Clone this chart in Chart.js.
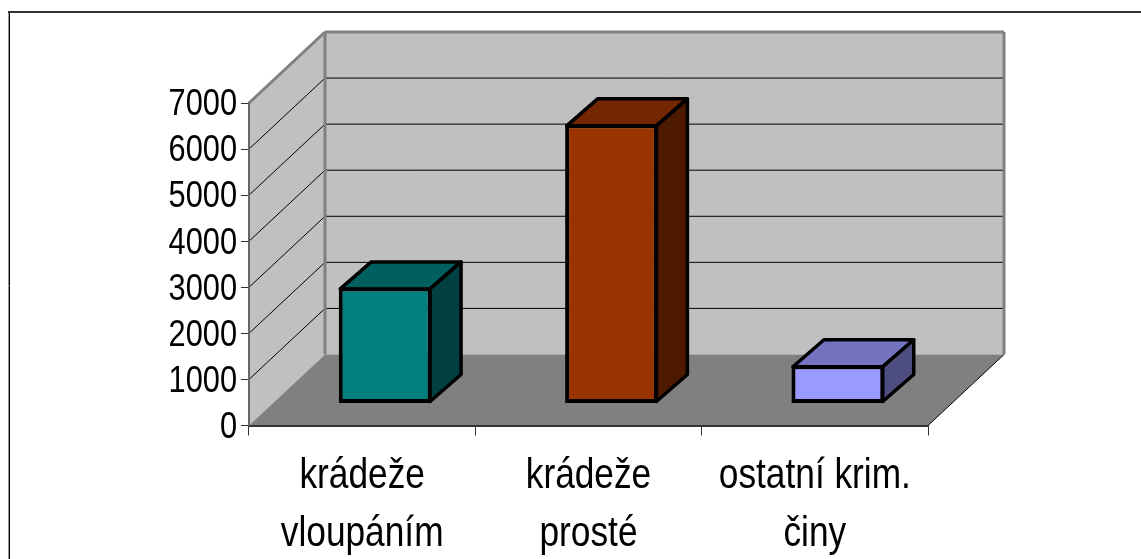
<!DOCTYPE html>
<html>
<head>
<meta charset="utf-8">
<script src="https://cdn.jsdelivr.net/npm/chart.js@4"></script>
<style>
body { margin: 0; background: #fff; }
canvas { display: block; }
</style>
</head>
<body>
<canvas id="myChart" width="1141" height="559"></canvas>
<script>
const categories = [['krádeže', 'vloupáním'], ['krádeže', 'prosté'], ['ostatní krim.', 'činy']]
const values = [2520, 6060, 830]
const barColors = ['#008080', '#993300', '#9999FF']
const topColors = ['#006060', '#732600', '#7373C0']
const sideColors = ['#004040', '#4D1A00', '#4D4D80']

const wallDepth = { x: 76, y: -71 }
const barShift = { x: 23, y: -22 }
const barDepth = { x: 31, y: -27 }

function poly(ctx, points, fill, stroke, width) {
    ctx.beginPath()
    points.forEach(function(p, i) {
        if (i === 0) ctx.moveTo(p[0], p[1])
        else ctx.lineTo(p[0], p[1])
    })
    ctx.closePath()
    if (fill) {
        ctx.fillStyle = fill
        ctx.fill()
    }
    if (stroke) {
        ctx.strokeStyle = stroke
        ctx.lineWidth = width
        ctx.stroke()
    }
}

function line(ctx, x1, y1, x2, y2, color, width) {
    ctx.beginPath()
    ctx.moveTo(x1, y1)
    ctx.lineTo(x2, y2)
    ctx.strokeStyle = color
    ctx.lineWidth = width
    ctx.stroke()
}

// the original text is squeezed sideways, no narrow font is installed
const canvas = document.getElementById('myChart')
const canvasCtx = canvas.getContext('2d')
const plainFillText = canvasCtx.fillText
canvasCtx.fillText = function(text, x, y) {
    this.save()
    this.translate(x, y + 2)
    this.scale(0.82, 1)
    plainFillText.call(this, text, 0, 0)
    this.restore()
}

// the 3D box behind the bars, hung on the real scales
const walls = {
    id: 'walls',
    beforeDraw: function(chart) {
        const ctx = chart.ctx
        const xs = chart.scales.x
        const ys = chart.scales.y
        const l = xs.left, r = xs.right
        const t = ys.getPixelForValue(7000), b = ys.getPixelForValue(0)
        const dx = wallDepth.x, dy = wallDepth.y

        ctx.save()
        ctx.fillStyle = '#fff'
        ctx.fillRect(0, 0, chart.width, chart.height)
        // only the left and top of the frame show in the window
        line(ctx, 8.5, 12, 8.5, chart.height, '#999', 1)
        line(ctx, 9.5, 12, 9.5, chart.height, '#000', 1)
        line(ctx, 8, 12, chart.width, 12, '#333', 2)

        poly(ctx, [[l + dx, t + dy], [r + dx, t + dy], [r + dx, b + dy], [l + dx, b + dy]], '#C0C0C0')
        poly(ctx, [[l, t], [l + dx, t + dy], [l + dx, b + dy], [l, b]], '#C0C0C0')
        poly(ctx, [[l, b], [l + dx, b + dy], [r + dx, b + dy], [r, b]], '#808080')

        ys.ticks.forEach(function(tick) {
            if (tick.value === 0 || tick.value === 7000) return
            const y = ys.getPixelForValue(tick.value)
            line(ctx, l, y, l + dx, y + dy, '#000', 1)
            line(ctx, l + dx, y + dy, r + dx, y + dy, '#000', 1)
        })

        line(ctx, l, t, l + dx, t + dy, '#808080', 3)
        line(ctx, l + dx, t + dy, r + dx, t + dy, '#808080', 3)
        line(ctx, r + dx, t + dy, r + dx, b + dy, '#808080', 3)
        line(ctx, l + dx, t + dy, l + dx, b + dy, '#808080', 3)
        line(ctx, r, b, r + dx, b + dy, '#000', 1)
        ctx.restore()
    },
    beforeDatasetDraw: function(chart, args) {
        const ctx = chart.ctx
        ctx.save()
        ctx.translate(barShift.x, barShift.y)
        ctx.lineJoin = 'round'
        args.meta.data.forEach(function(bar, i) {
            const w = bar.width / 2 - 1.5
            const x1 = bar.x - w, x2 = bar.x + w
            const y1 = bar.y + 1.5, y2 = bar.base - 1.5
            const dx = barDepth.x, dy = barDepth.y
            poly(ctx, [[x1, y1], [x1 + dx, y1 + dy], [x2 + dx, y1 + dy], [x2, y1]], topColors[i], '#000', 3.5)
            poly(ctx, [[x2, y1], [x2 + dx, y1 + dy], [x2 + dx, y2 + dy], [x2, y2]], sideColors[i], '#000', 3.5)
        })
    },
    afterDatasetDraw: function(chart) {
        chart.ctx.restore()
    }
}

new Chart(canvas, {
    type: 'bar',
    data: {
        labels: categories,
        datasets: [{
            data: values,
            backgroundColor: barColors,
            borderColor: '#000',
            borderWidth: 4,
            borderSkipped: false,
            barPercentage: 0.41,
            categoryPercentage: 1,
            clip: false
        }]
    },
    plugins: [walls],
    options: {
        responsive: false,
        animation: false,
        layout: { padding: { left: 0, top: 103, right: 213, bottom: 0 } },
        plugins: { legend: { display: false }, tooltip: { enabled: false } },
        scales: {
            x: {
                afterFit: function(scale) { scale.height = 133.5 },
                border: { color: '#333', width: 2 },
                grid: { offset: true, drawOnChartArea: false, drawTicks: true, tickLength: 10, color: '#333' },
                ticks: {
                    color: '#000',
                    maxRotation: 0,
                    autoSkip: false,
                    padding: 10,
                    font: { family: 'Liberation Sans', size: 43, lineHeight: 1.34 }
                }
            },
            y: {
                min: 0,
                max: 7000,
                afterFit: function(scale) { scale.width = 249 },
                border: { color: '#666', width: 2 },
                grid: { drawOnChartArea: false, drawTicks: true, tickLength: 8, color: '#333' },
                ticks: {
                    stepSize: 1000,
                    autoSkip: false,
                    color: '#000',
                    padding: 4,
                    callback: function(value) { return String(value) },
                    font: { family: 'Liberation Sans', size: 37.5 }
                }
            }
        }
    }
})
</script>
</body>
</html>
